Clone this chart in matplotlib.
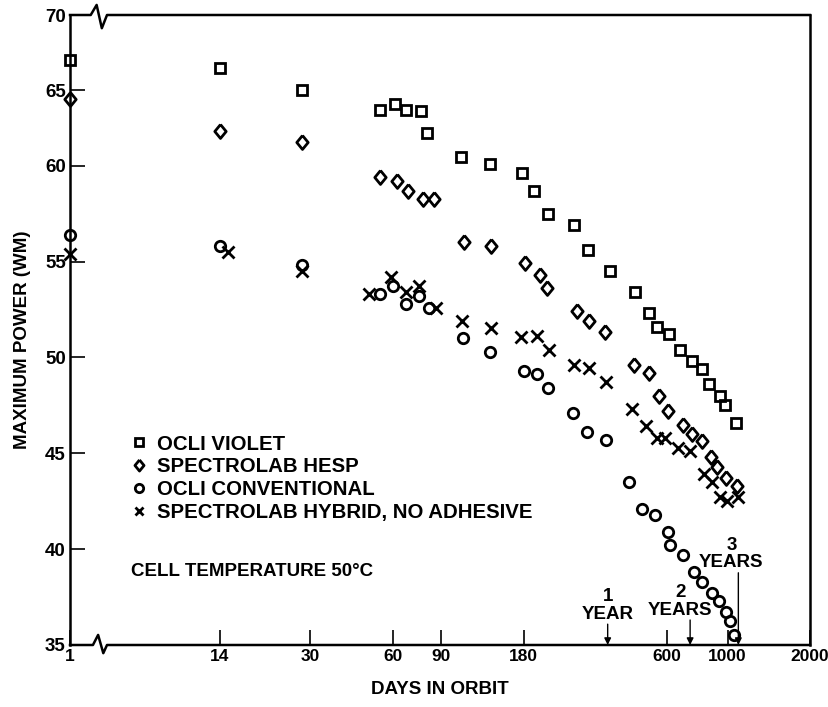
import numpy as np
import matplotlib
matplotlib.use("Agg")
import matplotlib.pyplot as plt
from matplotlib.ticker import FixedLocator, FixedFormatter, NullLocator

plt.rcParams['font.family'] = ['Liberation Sans', 'DejaVu Sans']
plt.rcParams['font.weight'] = 'bold'
plt.rcParams['axes.labelweight'] = 'bold'

# Data (days in orbit, maximum power in watts)
violet_days = [1, 14, 28, 54, 61, 67, 76, 80, 106, 136, 177, 196, 221, 275, 309,
               372, 458, 516, 553, 609, 673, 743, 806, 855, 938, 982, 1073]
violet_power = [67.0, 66.5, 65.0, 63.7, 64.1, 63.7, 63.6, 62.2, 60.6, 60.1, 59.6, 58.7,
                57.5, 56.9, 55.6, 54.5, 53.4, 52.3, 51.6, 51.2, 50.4, 49.8, 49.4, 48.6,
                48.0, 47.5, 46.6]

hesp_days = [1, 14, 28, 54, 62, 68, 77, 85, 109, 137, 182, 206, 220, 281, 311, 356,
             456, 517, 560, 607, 685, 739, 810, 867, 917, 988, 1081]
hesp_power = [64.4, 62.3, 61.6, 59.4, 59.2, 58.7, 58.25, 58.25, 56.0, 55.8, 54.9, 54.3,
              53.6, 52.4, 51.9, 51.3, 49.6, 49.2, 48.0, 47.2, 46.5, 46.0, 45.65, 44.8,
              44.3, 43.7, 43.3]

conv_days = [1, 14, 28, 54, 60, 67, 75, 81, 108, 136, 181, 201, 221, 273, 307, 359,
             437, 489, 543, 604, 615, 685, 753, 806, 879, 927, 984, 1020, 1057]
conv_power = [56.4, 55.8, 54.8, 53.3, 53.7, 52.8, 53.2, 52.6, 51.0, 50.3, 49.3, 49.15,
              48.4, 47.1, 46.1, 45.7, 43.5, 42.1, 41.8, 40.9, 40.2, 39.7, 38.8, 38.3,
              37.7, 37.3, 36.7, 36.25, 35.5]

hybrid_days = [1, 15, 28, 49, 59, 67, 75, 86, 107, 137, 176, 201, 222, 276, 311, 359,
               446, 503, 554, 593, 661, 728, 823, 874, 938, 996, 1089]
hybrid_power = [55.4, 55.5, 54.5, 53.3, 54.2, 53.4, 53.7, 52.6, 51.9, 51.55, 51.06, 51.1,
                50.4, 49.6, 49.46, 48.7, 47.3, 46.4, 45.8, 45.8, 45.3, 45.1, 43.9, 43.5,
                42.7, 42.5, 42.7]

labels = ['OCLI VIOLET', 'SPECTROLAB HESP', 'OCLI CONVENTIONAL',
          'SPECTROLAB HYBRID, NO ADHESIVE']

day_ticks = [1, 14, 30, 60, 90, 180, 600, 1000, 2000]
power_ticks = [35, 40, 45, 50, 55, 60, 65, 70]

milestone_days = [365, 730, 1095]
milestone_labels = ['1\nYEAR', '2\nYEARS', '3\nYEARS']


# x: log axis with a break between day 1 and day 14
BRK = 4.0
def x_fwd(x):
    x = np.asarray(x, dtype=float)
    return np.where(x >= BRK, np.log10(np.maximum(x, BRK)), np.log10(BRK) + (x - BRK) * 0.001)

def x_inv(u):
    u = np.asarray(u, dtype=float)
    u0 = np.log10(BRK)
    return np.where(u >= u0, 10 ** np.minimum(u, 10), BRK + (u - u0) / 0.001)

# y: the original grid is a bit compressed above 60
def y_fwd(y):
    y = np.asarray(y, dtype=float)
    return np.where(y <= 60, y, 60 + (y - 60) * 0.786)

def y_inv(v):
    v = np.asarray(v, dtype=float)
    return np.where(v <= 60, v, 60 + (v - 60) / 0.786)


fig = plt.figure(figsize=(8.29, 7.07), dpi=100)
ax = fig.add_axes([70 / 829, 62 / 707, 740 / 829, 630 / 707])

diamond = [(0, 1), (0.82, 0), (0, -1), (-0.82, 0), (0, 1)]
styles = [('s', 7), (diamond, 10), ('o', 7.5), ('x', 8)]
series = [(violet_days, violet_power), (hesp_days, hesp_power),
          (conv_days, conv_power), (hybrid_days, hybrid_power)]

for (d, p), (m, ms), lab in zip(series, styles, labels):
    ax.plot(d, p, linestyle='none', marker=m, ms=ms, mfc='none', mec='black',
            mew=2.0, clip_on=False, zorder=3, label=lab)

ax.set_xscale('function', functions=(x_fwd, x_inv))
ax.set_yscale('function', functions=(y_fwd, y_inv))
ax.set_xlim(1, 2000)
ax.set_ylim(35, 70)

ax.xaxis.set_major_locator(FixedLocator(day_ticks))
ax.xaxis.set_major_formatter(FixedFormatter([str(t) for t in day_ticks]))
ax.xaxis.set_minor_locator(NullLocator())
ax.yaxis.set_major_locator(FixedLocator(power_ticks))
ax.yaxis.set_major_formatter(FixedFormatter([str(t) for t in power_ticks]))
ax.yaxis.set_minor_locator(NullLocator())
ax.tick_params(direction='in', length=11, width=1.2, pad=3)
ax.tick_params(axis='x', labelsize=12.5)
ax.tick_params(axis='y', labelsize=13.5)
for t in ax.get_xticklabels() + ax.get_yticklabels():
    t.set_fontweight('bold')

for s in ['left', 'right']:
    ax.spines[s].set_linewidth(1.8)
ax.spines['top'].set_visible(False)
ax.spines['bottom'].set_visible(False)

# frame lines with break marks
ax.plot([0, 0.031, 0.038, 0.045, 0.05, 1], [0, 0, 0.016, -0.013, 0, 0],
        transform=ax.transAxes, color='black', lw=1.8, clip_on=False, zorder=2)
ax.plot([0, 0.028, 0.036, 0.043, 0.05, 1], [1, 1, 1.016, 0.979, 1, 1],
        transform=ax.transAxes, color='black', lw=1.8, clip_on=False, zorder=2)

ax.set_xlabel('DAYS IN ORBIT', fontsize=13.5, fontweight='bold')
ax.set_ylabel('MAXIMUM POWER (WM)', fontsize=13.5, fontweight='bold')
ax.xaxis.set_label_coords(0.5, -0.057)
ax.yaxis.set_label_coords(-0.053, 0.484)

ax.legend(loc='upper left', bbox_to_anchor=(0.08, 0.334), frameon=False,
          prop={'size': 14.7, 'weight': 'bold'}, markerscale=0.8, handlelength=1.0,
          handletextpad=0.35, labelspacing=0.19, borderpad=0, borderaxespad=0)

ax.text(0.082, 0.116, 'CELL TEMPERATURE 50\u00b0C', transform=ax.transAxes,
        fontsize=13.5, fontweight='bold', ha='left', va='center')

arrow_len = [15, 18, 52]
text_dx = [0, -7, -5]
for day, lab, L, dx in zip(milestone_days, milestone_labels, arrow_len, text_dx):
    ax.annotate('', xy=(day, 35), xytext=(0, L), textcoords='offset points',
                arrowprops=dict(arrowstyle='-|>', lw=1, color='black',
                                mutation_scale=10, shrinkA=0, shrinkB=0))
    ax.annotate(lab, xy=(day, 35), xytext=(dx, L + 1), textcoords='offset points',
                ha='center', va='bottom', fontsize=13.5, fontweight='bold',
                linespacing=1.05)

plt.savefig('out.png', dpi=100)
